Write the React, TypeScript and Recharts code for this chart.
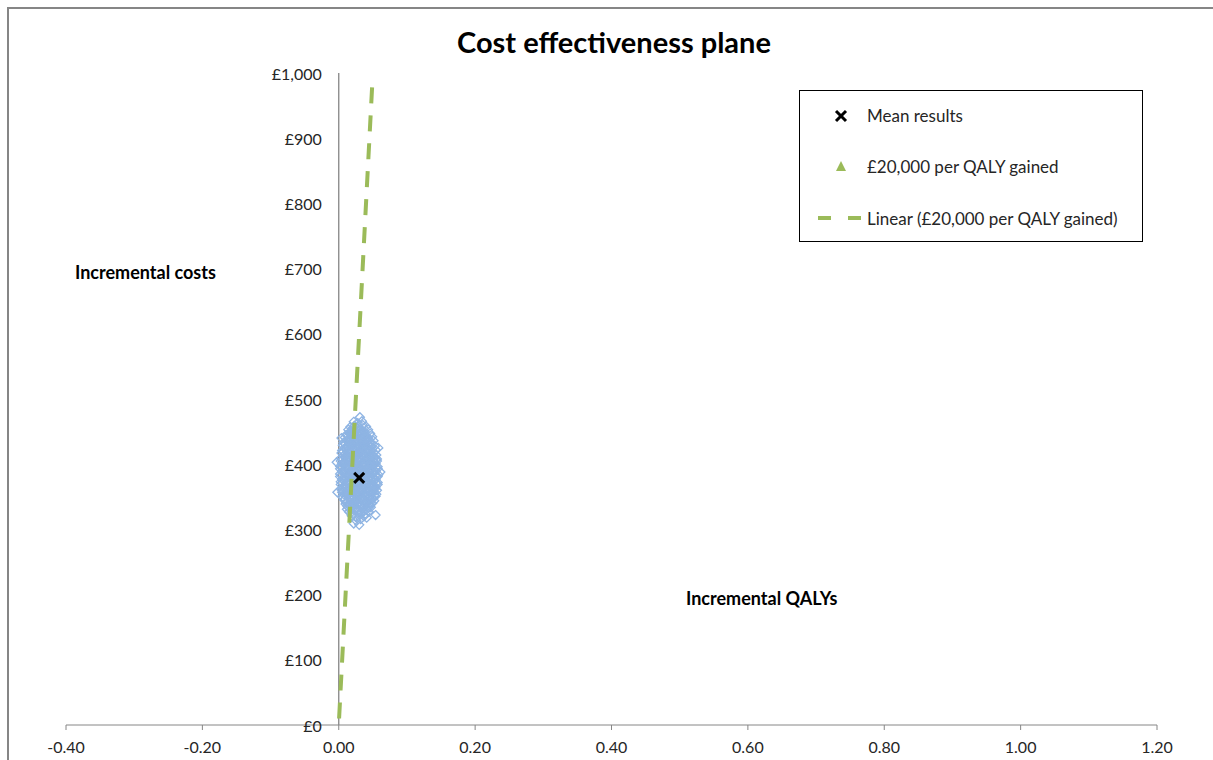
import React from 'react';
import {
  ScatterChart,
  Scatter,
  XAxis,
  YAxis,
  ReferenceLine,
} from 'recharts';

// Axis ranges and ticks
const qalyTicks = [-0.4, -0.2, 0, 0.2, 0.4, 0.6, 0.8, 1.0, 1.2];
const costTicks = [0, 100, 200, 300, 400, 500, 600, 700, 800, 900, 1000];

// Probabilistic sensitivity analysis runs: [incremental QALYs, incremental cost]
const psaRuns: [number, number][] = [
  [0.022, 309], [0.030, 307],
  [0.026, 313], [0.032, 316],
  [0.019, 321], [0.025, 319], [0.031, 322], [0.037, 320], [0.041, 318],
  [0.015, 327], [0.021, 325], [0.027, 328], [0.033, 326], [0.039, 324], [0.044, 327],
  [0.012, 331], [0.018, 334], [0.024, 332], [0.029, 330], [0.035, 333], [0.041, 331], [0.047, 334],
  [0.010, 339], [0.016, 337], [0.021, 340], [0.027, 338], [0.032, 336], [0.038, 339], [0.044, 337], [0.049, 340],
  [0.008, 345], [0.013, 343], [0.019, 346], [0.025, 344], [0.030, 342], [0.036, 345], [0.041, 343], [0.047, 346], [0.052, 344],
  [0.006, 349], [0.012, 352], [0.017, 350], [0.023, 348], [0.028, 351], [0.034, 349], [0.039, 352], [0.045, 350], [0.050, 348], [0.054, 351],
  [0.005, 357], [0.011, 355], [0.016, 358], [0.022, 356], [0.027, 354], [0.033, 357], [0.038, 355], [0.044, 358], [0.049, 356], [0.055, 354],
  [0.004, 361], [0.009, 363], [0.015, 361], [0.020, 364], [0.026, 362], [0.031, 360], [0.037, 363], [0.042, 361], [0.048, 364], [0.053, 362], [0.056, 360],
  [0.003, 369], [0.008, 367], [0.014, 370], [0.019, 368], [0.025, 366], [0.030, 369], [0.036, 367], [0.041, 370], [0.047, 368], [0.052, 366], [0.057, 369],
  [0.003, 373], [0.008, 375], [0.013, 373], [0.019, 376], [0.024, 374], [0.030, 372], [0.035, 375], [0.041, 373], [0.046, 376], [0.051, 374], [0.057, 372],
  [0.002, 381], [0.007, 379], [0.013, 382], [0.018, 380], [0.024, 378], [0.029, 381], [0.035, 379], [0.040, 382], [0.046, 380], [0.051, 378], [0.057, 381],
  [0.002, 385], [0.007, 387], [0.012, 385], [0.018, 388], [0.023, 386], [0.029, 384], [0.034, 387], [0.040, 385], [0.045, 388], [0.051, 386], [0.058, 384],
  [0.002, 393], [0.008, 391], [0.013, 394], [0.019, 392], [0.024, 390], [0.030, 393], [0.035, 391], [0.041, 394], [0.046, 392], [0.052, 390], [0.057, 393],
  [0.002, 397], [0.007, 399], [0.013, 397], [0.018, 400], [0.024, 398], [0.029, 396], [0.035, 399], [0.040, 397], [0.046, 400], [0.051, 398], [0.057, 396],
  [0.003, 405], [0.008, 403], [0.014, 406], [0.019, 404], [0.025, 402], [0.030, 405], [0.036, 403], [0.041, 406], [0.047, 404], [0.052, 402], [0.056, 405],
  [0.003, 409], [0.009, 411], [0.014, 409], [0.020, 412], [0.025, 410], [0.031, 408], [0.036, 411], [0.042, 409], [0.047, 412], [0.053, 410], [0.056, 408],
  [0.004, 417], [0.009, 415], [0.015, 418], [0.020, 416], [0.026, 414], [0.031, 417], [0.037, 415], [0.042, 418], [0.048, 416], [0.055, 414],
  [0.005, 421], [0.010, 423], [0.016, 421], [0.021, 424], [0.027, 422], [0.032, 420], [0.038, 423], [0.043, 421], [0.049, 424], [0.054, 422],
  [0.006, 429], [0.012, 427], [0.017, 430], [0.023, 428], [0.028, 426], [0.034, 429], [0.039, 427], [0.045, 430], [0.053, 428],
  [0.007, 433], [0.013, 435], [0.019, 433], [0.024, 436], [0.030, 434], [0.035, 432], [0.041, 435], [0.046, 433], [0.051, 436],
  [0.009, 441], [0.015, 439], [0.020, 442], [0.026, 440], [0.031, 438], [0.037, 441], [0.042, 439], [0.049, 442],
  [0.011, 445], [0.017, 447], [0.022, 445], [0.028, 448], [0.033, 446], [0.039, 444], [0.046, 447],
  [0.014, 453], [0.019, 451], [0.025, 454], [0.030, 452], [0.036, 450], [0.043, 453],
  [0.017, 457], [0.023, 459], [0.029, 457], [0.035, 460], [0.040, 458],
  [0.022, 465], [0.028, 463], [0.034, 466],
  [0.031, 472], [-0.002, 357], [0.061, 388], [-0.003, 403], [0.054, 322], [0.058, 425], [0.004, 440],
  // second batch of runs
  [0.018, 329], [0.024, 330], [0.030, 328], [0.036, 329],
  [0.013, 335], [0.019, 336], [0.026, 334], [0.032, 335], [0.038, 336], [0.044, 334],
  [0.011, 341], [0.017, 342], [0.023, 340], [0.029, 341], [0.035, 342], [0.040, 340], [0.046, 341],
  [0.009, 347], [0.015, 348], [0.020, 346], [0.026, 347], [0.032, 348], [0.037, 346], [0.043, 347], [0.049, 348],
  [0.008, 353], [0.014, 354], [0.019, 352], [0.025, 353], [0.030, 354], [0.036, 352], [0.041, 353], [0.047, 354], [0.052, 352],
  [0.007, 359], [0.012, 360], [0.018, 358], [0.024, 359], [0.029, 360], [0.035, 358], [0.040, 359], [0.046, 360], [0.051, 358],
  [0.006, 365], [0.011, 366], [0.017, 364], [0.022, 365], [0.028, 366], [0.033, 364], [0.039, 365], [0.044, 366], [0.050, 364], [0.054, 365],
  [0.005, 371], [0.011, 372], [0.016, 370], [0.022, 371], [0.027, 372], [0.033, 370], [0.038, 371], [0.044, 372], [0.049, 370], [0.054, 371],
  [0.005, 377], [0.010, 378], [0.016, 376], [0.021, 377], [0.027, 378], [0.032, 376], [0.038, 377], [0.043, 378], [0.049, 376], [0.054, 377],
  [0.004, 383], [0.010, 384], [0.015, 382], [0.021, 383], [0.026, 384], [0.032, 382], [0.037, 383], [0.043, 384], [0.048, 382], [0.054, 383],
  [0.005, 389], [0.010, 390], [0.016, 388], [0.021, 389], [0.027, 390], [0.032, 388], [0.038, 389], [0.043, 390], [0.049, 388], [0.054, 389],
  [0.005, 395], [0.010, 396], [0.015, 394], [0.021, 395], [0.026, 396], [0.032, 394], [0.037, 395], [0.043, 396], [0.048, 394], [0.054, 395],
  [0.005, 401], [0.011, 402], [0.016, 400], [0.022, 401], [0.027, 402], [0.033, 400], [0.038, 401], [0.044, 402], [0.049, 400], [0.054, 401],
  [0.006, 407], [0.011, 408], [0.017, 406], [0.022, 407], [0.028, 408], [0.033, 406], [0.039, 407], [0.044, 408], [0.050, 406], [0.054, 407],
  [0.007, 413], [0.012, 414], [0.018, 412], [0.023, 413], [0.029, 414], [0.034, 412], [0.040, 413], [0.045, 414], [0.051, 412],
  [0.007, 419], [0.013, 420], [0.018, 418], [0.024, 419], [0.029, 420], [0.035, 418], [0.040, 419], [0.046, 420], [0.051, 418],
  [0.009, 425], [0.014, 426], [0.020, 424], [0.025, 425], [0.031, 426], [0.036, 424], [0.042, 425], [0.047, 426],
  [0.010, 431], [0.016, 432], [0.021, 430], [0.027, 431], [0.032, 432], [0.038, 430], [0.043, 431], [0.048, 432],
  [0.012, 437], [0.018, 438], [0.023, 436], [0.029, 437], [0.034, 438], [0.040, 436], [0.045, 437],
  [0.014, 443], [0.020, 444], [0.025, 442], [0.031, 443], [0.036, 444], [0.042, 442],
  [0.016, 449], [0.022, 450], [0.027, 448], [0.033, 449], [0.038, 450],
  [0.020, 455], [0.026, 456], [0.032, 454], [0.037, 455],
];

const meanQaly = [0.030];
const meanCost = [379];

// £20,000 per QALY threshold line end points
const thresholdQaly = [0.0005, 0.0492];
const thresholdCost = [10, 984];

const legendLabels = ['Mean results', '£20,000 per QALY gained', 'Linear (£20,000 per QALY gained)'];

const psaData = psaRuns.map(([q, c]) => ({ q, c }));
const meanData = meanQaly.map((q, i) => ({ q, c: meanCost[i] }));
const thresholdData = thresholdQaly.map((q, i) => ({ q, c: thresholdCost[i] }));

const CHART_W = 1204;
const CHART_H = 751;
const Y_AXIS_W = 57;
const MARGIN = { top: 64, right: 56, bottom: 5, left: 0 };
const X_MIN = -0.4;
const X_MAX = 1.2;
// y axis crosses at QALY = 0
const ZERO_X = Y_AXIS_W + ((CHART_W - Y_AXIS_W - MARGIN.right) * (0 - X_MIN)) / (X_MAX - X_MIN);

const FONT = 'Lato, "Open Sans", sans-serif';
const TEXT = '#262626';
const AXIS = '#868686';
const BLUE = '#8EB4E3';
const GREEN = '#9BBB59';

const Diamond = (props: any) => {
  const { cx, cy } = props;
  const r = 4.5;
  return (
    <polygon
      points={`${cx},${cy - r} ${cx + r},${cy} ${cx},${cy + r} ${cx - r},${cy}`}
      fill="none"
      stroke={BLUE}
      strokeWidth={1.3}
    />
  );
};

const Cross = (props: any) => {
  const { cx, cy } = props;
  const r = 5;
  return (
    <g stroke="#000" strokeWidth={3}>
      <line x1={cx - r} y1={cy - r} x2={cx + r} y2={cy + r} />
      <line x1={cx - r} y1={cy + r} x2={cx + r} y2={cy - r} />
    </g>
  );
};

const CostTick = (props: any) => {
  const { y, payload } = props;
  return (
    <text x={ZERO_X - 17} y={y} textAnchor="end" dominantBaseline="central" fill={TEXT} fontSize={16}>
      {'£' + payload.value.toLocaleString('en-GB')}
    </text>
  );
};

const LegendBox = () => (
  <div
    style={{
      position: 'absolute',
      left: 790,
      top: 81,
      width: 344,
      height: 152,
      boxSizing: 'border-box',
      border: '1.5px solid #000',
      background: '#fff',
      fontSize: 17,
      color: TEXT,
    }}
  >
    <svg width={70} height={150} style={{ position: 'absolute', left: 0, top: 0 }}>
      <g stroke="#000" strokeWidth={3}>
        <line x1={36} y1={20} x2={46} y2={30} />
        <line x1={36} y1={30} x2={46} y2={20} />
      </g>
      <polygon points="41,70 46,80 36,80" fill={GREEN} />
      <line x1={18} y1={127} x2={62} y2={127} stroke={GREEN} strokeWidth={4} strokeDasharray="13 17" />
    </svg>
    {legendLabels.map((label, i) => (
      <div key={label} style={{ position: 'absolute', left: 67, top: [15, 66, 118][i], lineHeight: '20px' }}>
        {label}
      </div>
    ))}
  </div>
);

export default function App() {
  return (
    <div
      style={{
        position: 'fixed',
        left: 7,
        top: 7,
        width: CHART_W,
        height: CHART_H,
        borderTop: `2px solid ${AXIS}`,
        borderLeft: `2px solid ${AXIS}`,
        overflow: 'hidden',
        fontFamily: FONT,
        background: '#fff',
      }}
    >
      <ScatterChart width={CHART_W} height={CHART_H} margin={MARGIN}>
        <XAxis
          type="number"
          dataKey="q"
          domain={[X_MIN, X_MAX]}
          ticks={qalyTicks}
          allowDataOverflow
          height={30}
          stroke={AXIS}
          tickSize={5}
          tickMargin={12}
          tick={{ fill: TEXT, fontSize: 16 }}
          tickFormatter={(v: number) => v.toFixed(2)}
        />
        <YAxis
          type="number"
          dataKey="c"
          domain={[0, 1000]}
          ticks={costTicks}
          allowDataOverflow
          width={Y_AXIS_W}
          axisLine={false}
          tickLine={false}
          tick={<CostTick />}
          interval={0}
        />
        <ReferenceLine x={0} stroke={AXIS} strokeWidth={1.3} />
        <Scatter data={psaData} shape={<Diamond />} isAnimationActive={false} />
        <Scatter
          data={thresholdData}
          line={{ stroke: GREEN, strokeWidth: 4, strokeDasharray: '16 12' }}
          shape={() => null}
          isAnimationActive={false}
        />
        <Scatter data={meanData} shape={<Cross />} isAnimationActive={false} />
      </ScatterChart>
      <div
        style={{
          position: 'absolute',
          left: 305,
          width: 600,
          top: 15,
          textAlign: 'center',
          fontSize: 29,
          fontWeight: 700,
          color: '#000',
          lineHeight: '36px',
        }}
      >
        Cost effectiveness plane
      </div>
      <div style={{ position: 'absolute', left: 66, top: 253, fontSize: 18, fontWeight: 700, color: '#000', lineHeight: '20px' }}>
        Incremental costs
      </div>
      <div style={{ position: 'absolute', left: 677, top: 579, fontSize: 18, fontWeight: 700, color: '#000', lineHeight: '20px' }}>
        Incremental QALYs
      </div>
      <LegendBox />
    </div>
  );
}
